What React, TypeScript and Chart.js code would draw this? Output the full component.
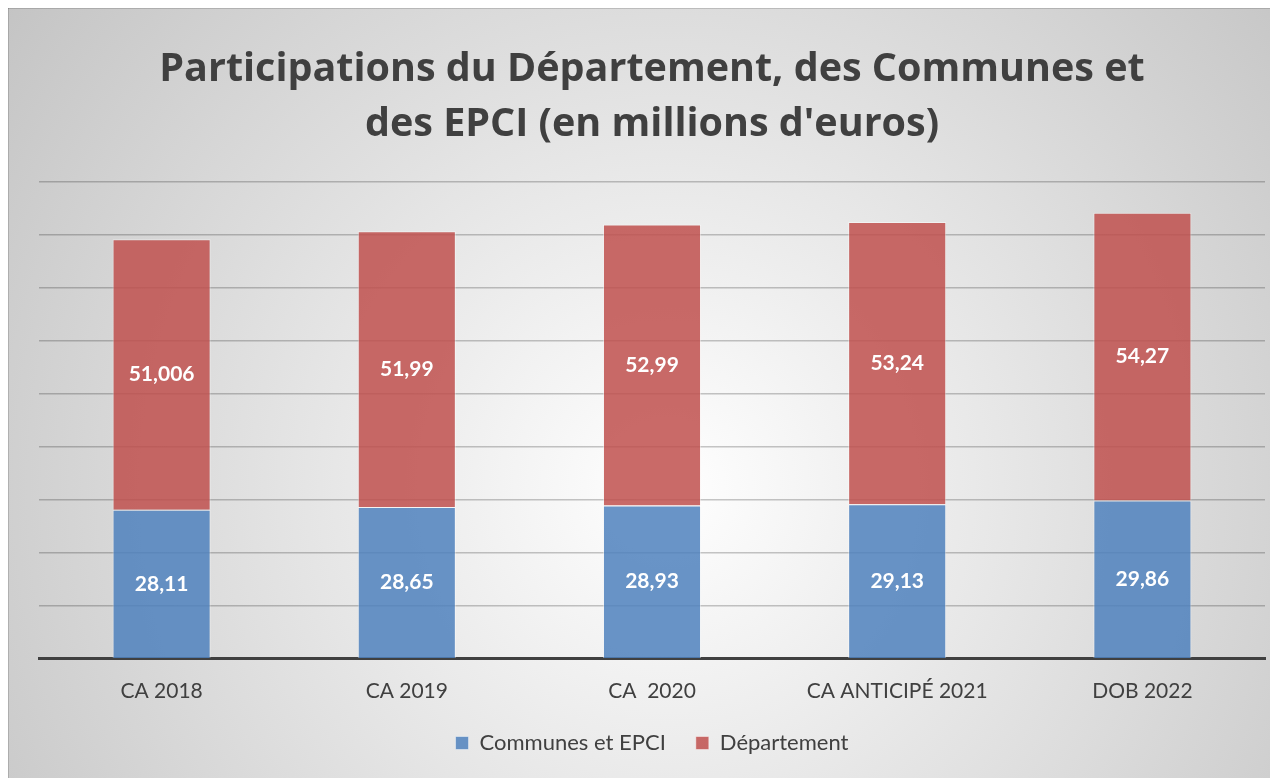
import React, { useEffect, useRef } from "react";
import { Chart, registerables } from "chart.js";

Chart.register(...registerables);

const categories = ["CA 2018", "CA 2019", "CA  2020", "CA ANTICIPÉ 2021", "DOB 2022"];
const communesValues = [28.11, 28.65, 28.93, 29.13, 29.86];
const departementValues = [51.006, 51.99, 52.99, 53.24, 54.27];
const communesLabels = ["28,11", "28,65", "28,93", "29,13", "29,86"];
const departementLabels = ["51,006", "51,99", "52,99", "53,24", "54,27"];
const seriesNames = ["Communes et EPCI", "Département"];
const titleLines = ["Participations du Département, des Communes et", "des EPCI (en millions d'euros)"];
const yMax = 90;
const yStep = 10;

const bgPlugin = {
  id: "bgGradient",
  beforeDraw(chart: any) {
    const { ctx, width, height } = chart;
    ctx.save();
    const g = ctx.createRadialGradient(660, 480, 0, 660, 480, 820);
    g.addColorStop(0, "#ffffff");
    g.addColorStop(1, "#c4c4c4");
    ctx.fillStyle = g;
    ctx.fillRect(0, 0, width, height);
    ctx.strokeStyle = "rgba(0,0,0,0.15)";
    ctx.lineWidth = 1;
    ctx.beginPath();
    ctx.moveTo(0, 0.5);
    ctx.lineTo(width, 0.5);
    ctx.moveTo(0.5, 0);
    ctx.lineTo(0.5, height);
    ctx.stroke();
    ctx.restore();
  },
};

const labelPlugin = {
  id: "barLabels",
  afterDatasetsDraw(chart: any) {
    const { ctx } = chart;
    const texts = [communesLabels, departementLabels];
    ctx.save();
    ctx.fillStyle = "#ffffff";
    ctx.font = "bold 21px Lato";
    ctx.textAlign = "center";
    ctx.textBaseline = "middle";
    chart.data.datasets.forEach((_: any, di: number) => {
      const meta = chart.getDatasetMeta(di);
      meta.data.forEach((el: any, i: number) => {
        const y = (el.y + el.base) / 2;
        ctx.fillText(texts[di][i], el.x, y);
      });
    });
    ctx.restore();
  },
};

export default function App() {
  const ref = useRef<HTMLCanvasElement>(null);
  useEffect(() => {
    if (!ref.current) return;
    const chart = new Chart(ref.current, {
      type: "bar",
      data: {
        labels: categories,
        datasets: [
          {
            label: seriesNames[0],
            data: communesValues,
            backgroundColor: "rgba(79,129,189,0.85)",
            borderColor: "rgba(255,255,255,0.45)",
            borderWidth: 1,
            barPercentage: 0.4,
            categoryPercentage: 1,
          },
          {
            label: seriesNames[1],
            data: departementValues,
            backgroundColor: "rgba(192,80,77,0.85)",
            borderColor: "rgba(255,255,255,0.45)",
            borderWidth: 1,
            barPercentage: 0.4,
            categoryPercentage: 1,
          },
        ],
      },
      options: {
        animation: false,
        responsive: true,
        maintainAspectRatio: false,
        layout: { padding: { left: 31, right: 13, top: 0, bottom: 14 } },
        plugins: {
          title: {
            display: true,
            text: titleLines,
            color: "#404040",
            font: { family: "Open Sans", weight: "bold", size: 39.5, lineHeight: 1.4 },
            padding: { top: 34, bottom: 29 },
          },
          legend: {
            position: "bottom",
            labels: {
              color: "#404040",
              font: { family: "Lato", size: 22 },
              boxWidth: 13,
              boxHeight: 13,
              padding: 30,
            },
          },
          tooltip: { enabled: false },
        },
        scales: {
          x: {
            stacked: true,
            grid: { display: false },
            border: { display: true, color: "#404040", width: 3 },
            ticks: { color: "#404040", font: { family: "Lato", size: 21 }, padding: 12 },
            afterFit: (s: any) => {
              s.height = s.height - 14;
            },
          },
          y: {
            stacked: true,
            min: 0,
            max: yMax,
            ticks: { display: false, stepSize: yStep },
            grid: { color: "rgba(0,0,0,0.22)", lineWidth: 1.5, drawTicks: false },
            border: { display: false },
          },
        },
      },
      plugins: [bgPlugin, labelPlugin],
    });
    return () => chart.destroy();
  }, []);
  return (
    <div style={{ width: 1270, height: 770, position: "relative" }}>
      <canvas ref={ref} />
    </div>
  );
}
